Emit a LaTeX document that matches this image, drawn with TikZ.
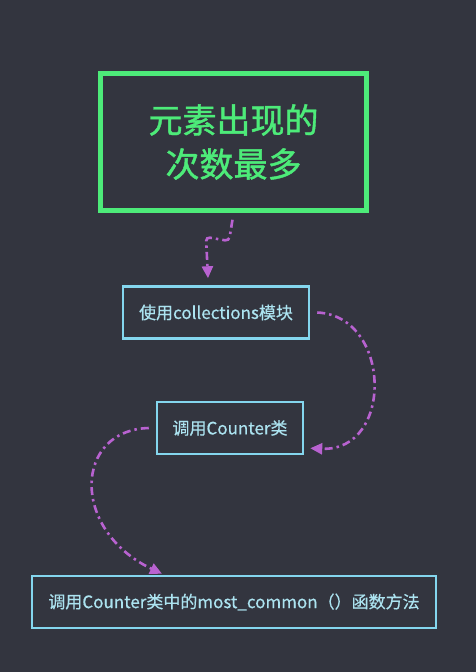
\documentclass[tikz,border=0pt]{standalone}
\usepackage{fontspec}
\setmainfont{Noto Sans CJK SC}
\newfontfamily\titlefont[FakeBold=1.2]{Noto Sans CJK SC}
\newfontfamily\boxfont[FakeBold=0.5]{Noto Sans CJK SC}
\usetikzlibrary{arrows.meta}

\definecolor{bgdark}{HTML}{33353F}
\definecolor{titlegreen}{HTML}{4DEB79}
\definecolor{boxcyan}{HTML}{84D6EE}
\definecolor{textcyan}{HTML}{ACE3F0}
\definecolor{arrowpurple}{HTML}{B862D0}

\tikzset{
  titlebox/.style={draw=titlegreen, line width=4.5pt, text=titlegreen,
    font=\titlefont\fontsize{34pt}{44pt}\selectfont, align=center,
    minimum width=266pt, minimum height=137pt},
  stepbox/.style={draw=boxcyan, line width=2.5pt, text=textcyan,
    font=\boxfont\fontsize{17pt}{20pt}\selectfont, minimum height=52pt, inner xsep=10pt},
  flow/.style={draw=arrowpurple, line width=2.6pt,
    dash pattern=on 8pt off 4pt on 2.5pt off 4pt,
    -{Triangle[length=12pt,width=11pt,fill=arrowpurple]}}
}

\begin{document}
\begin{tikzpicture}[x=1pt, y=-1pt]
% background and page size
\fill[bgdark] (0,0) rectangle (476,672);
\useasboundingbox (0,0) rectangle (476,672);

% the four boxes
\node[titlebox] (title) at (233.5,142) {元素出现的\\次数最多};
\node[stepbox, minimum width=186pt] (usemod) at (216,312.5) {使用collections模块};
\node[stepbox, minimum width=146pt] (counter) at (230,428) {调用Counter类};
\node[stepbox, minimum width=404pt] (common) at (234,602) {调用Counter类中的most\_common（）函数方法};

% connectors
\draw[flow, rounded corners=4pt] ([xshift=-1pt,yshift=-7pt]title.south) -- (229,241) -- (206,237) -- ([xshift=-8pt,yshift=7pt]usemod.north);
\draw[flow] ([xshift=7pt]usemod.east) .. controls (392,316) and (394,452) .. ([xshift=6pt,yshift=7pt]counter.south east);
\draw[flow] ([xshift=-7pt]counter.west) .. controls (74,430) and (70,530) .. ([xshift=-72pt,yshift=1pt]common.north);
\end{tikzpicture}
\end{document}
